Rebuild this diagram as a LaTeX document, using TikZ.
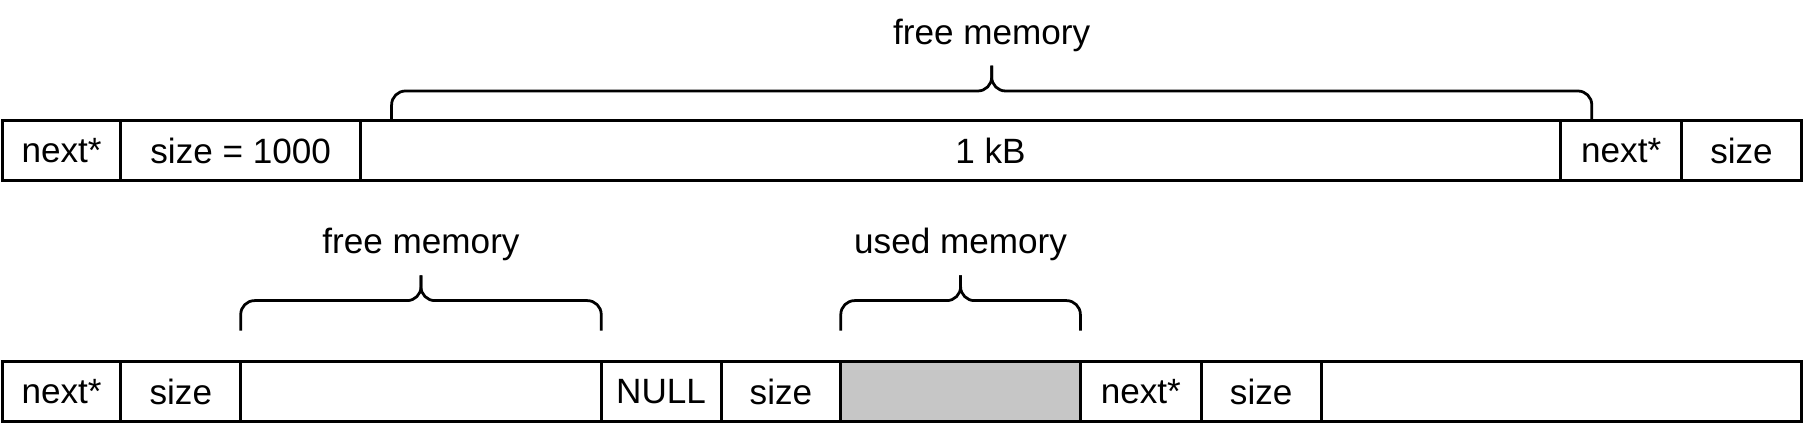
\documentclass[tikz,border=0pt]{standalone}
\usepackage{fontspec}
\setmainfont{Liberation Sans}
\usetikzlibrary{positioning,calc}
\definecolor{usedgray}{RGB}{198,198,198}
\tikzstyle{cell} = [draw,line width=2.6pt,minimum height=52pt,inner sep=0pt,outer sep=0pt,font=\fontsize{30.5}{36}\selectfont]
\tikzstyle{bracket} = [draw,line width=2.4pt,rounded corners=12pt]
\tikzstyle{caption} = [inner sep=0pt,font=\fontsize{30.5}{36}\selectfont]

\begin{document}
\begin{tikzpicture}[x=1pt,y=1pt]
    \useasboundingbox (0,0) rectangle (1568,370);

    % one block of 1 kB
    \node[cell,minimum width=103pt,anchor=west] (tnext) at (2,239) {next*};
    \foreach \nodename/\prevname/\w/\txt in {
      tsize/tnext/208/size = 1000,
      tdata/tsize/1042/{},
      tnext2/tdata/105/next*,
      tsize2/tnext2/104/size}
    {
      \node[cell,minimum width=\w pt,right=0pt of \prevname] (\nodename) {\txt};
    }
    \node[caption] (tdatatext) at ([xshift=26pt]tdata.center) {1 kB};

    % split into free and used
    \node[cell,minimum width=103pt,anchor=west] (bnext) at (2,30) {next*};
    \foreach \nodename/\prevname/\w/\txt/\cellfill in {
      bsize/bnext/104/size/white,
      bfree/bsize/313/{}/white,
      bnull/bfree/104/NULL/white,
      bsize2/bnull/104/size/white,
      bused/bsize2/208/{}/usedgray,
      bnext2/bused/105/next*/white,
      bsize3/bnext2/104/size/white,
      brest/bsize3/417/{}/white}
    {
      \node[cell,fill=\cellfill,minimum width=\w pt,right=0pt of \prevname] (\nodename) {\txt};
    }

    %braces
    \coordinate (topleft) at ([xshift=27pt]tdata.north west);
    \coordinate (topright) at ([xshift=27pt]tnext2.north west);
    \coordinate (freeleft) at ([yshift=27pt]bfree.north west);
    \coordinate (freeright) at ([yshift=27pt]bfree.north east);
    \coordinate (usedleft) at ([yshift=27pt]bused.north west);
    \coordinate (usedright) at ([yshift=27pt]bused.north east);
    \foreach \leftend/\rightend/\tipname/\txt in {
      topleft/topright/toptip/free memory,
      freeleft/freeright/freetip/free memory,
      usedleft/usedright/usedtip/used memory}
    {
      \coordinate (\tipname) at ($(\leftend)!0.5!(\rightend)+(0,48pt)$);
      \draw[bracket] (\leftend) -- ++(0,26pt) -| (\tipname);
      \draw[bracket] (\rightend) -- ++(0,26pt) -| (\tipname);
      \node[caption,above=12pt of \tipname] (\tipname label) {\txt};
    }
\end{tikzpicture}
\end{document}
